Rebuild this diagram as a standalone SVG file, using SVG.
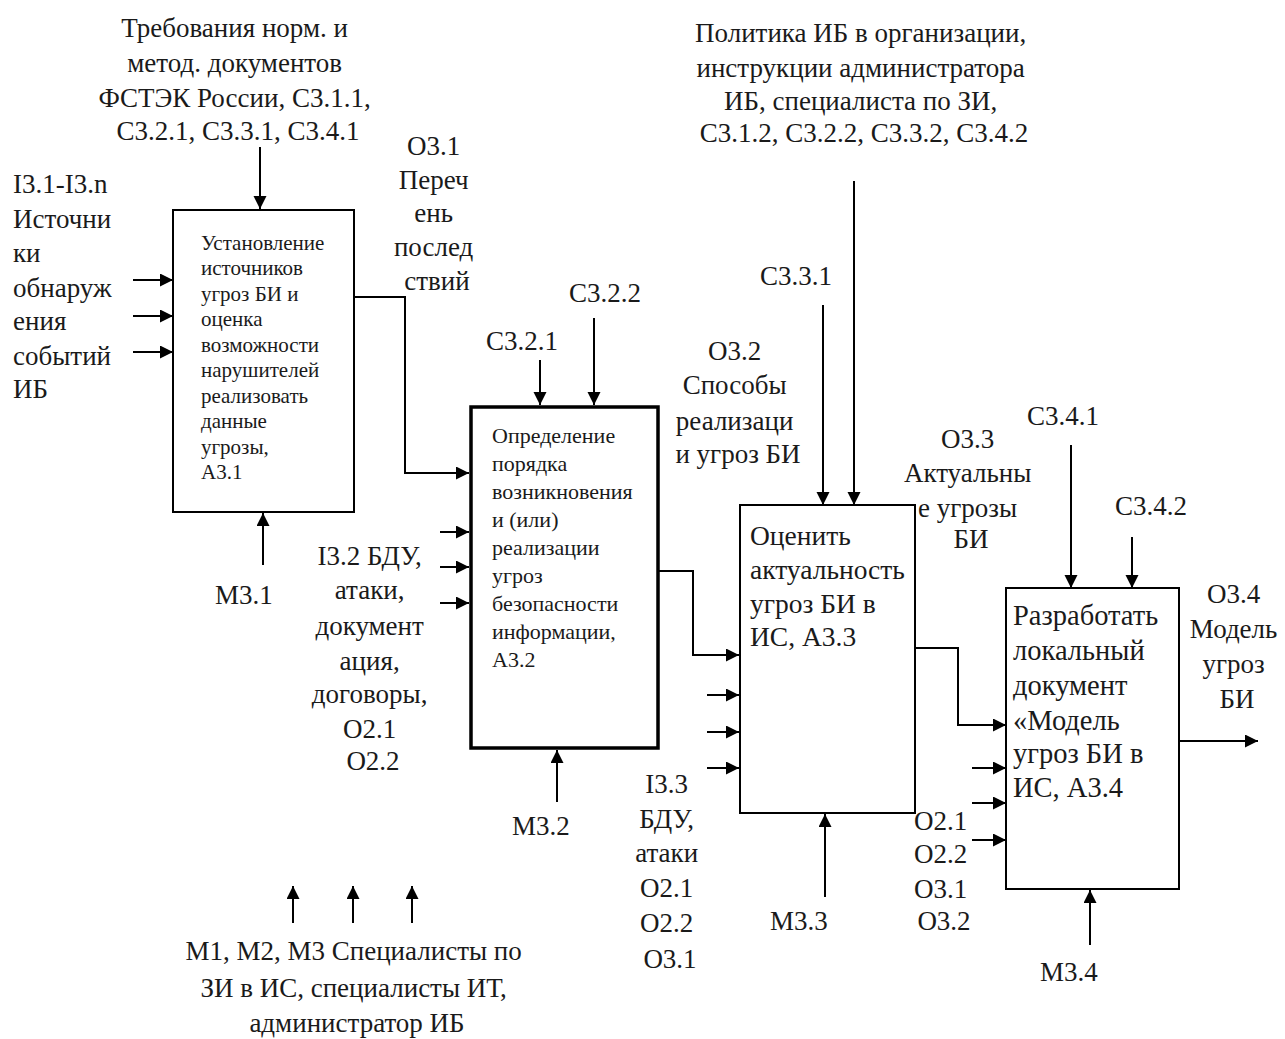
<svg xmlns="http://www.w3.org/2000/svg" width="1285" height="1039" viewBox="0 0 1285 1039">
<defs>
<marker id="ah" markerUnits="userSpaceOnUse" markerWidth="14" markerHeight="14" refX="13" refY="6.5" orient="auto">
<path d="M0,0 L13,6.5 L0,13 Z" fill="#000"/>
</marker>
<style>
.lbl{font-family:"Liberation Serif","Times New Roman",serif;font-size:27px;fill:#1a1a1a;text-anchor:middle}
.lft{text-anchor:start}
.box{fill:#fff;stroke:#000;stroke-width:2}
.bold{stroke-width:3.5}
.t1{font-family:"Liberation Serif","Times New Roman",serif;font-size:21px;fill:#1a1a1a}
.t2{font-family:"Liberation Serif","Times New Roman",serif;font-size:22px;fill:#1a1a1a}
.t3{font-family:"Liberation Serif","Times New Roman",serif;font-size:27.5px;fill:#1a1a1a}
.t4{font-family:"Liberation Serif","Times New Roman",serif;font-size:28.5px;fill:#1a1a1a}
.c{fill:none;stroke:#000;stroke-width:2;marker-end:url(#ah)}
</style>
</defs>
<rect width="1285" height="1039" fill="#fff"/>

<g id="connectors">
<line class="c" x1="260" y1="147" x2="260" y2="209"/>
<line class="c" x1="133" y1="280" x2="173" y2="280"/>
<line class="c" x1="133" y1="316" x2="173" y2="316"/>
<line class="c" x1="133" y1="352" x2="173" y2="352"/>
<line class="c" x1="263" y1="565" x2="263" y2="513"/>
<path class="c" d="M354,297 H405 V473 H469"/>
<line class="c" x1="540" y1="360" x2="540" y2="405"/>
<line class="c" x1="594" y1="318" x2="594" y2="405"/>
<line class="c" x1="440" y1="532" x2="469" y2="532"/>
<line class="c" x1="440" y1="567" x2="469" y2="567"/>
<line class="c" x1="440" y1="603" x2="469" y2="603"/>
<line class="c" x1="557" y1="802" x2="557" y2="750"/>
<path class="c" d="M659,571 H693 V655 H739"/>
<line class="c" x1="823" y1="305" x2="823" y2="505"/>
<line class="c" x1="854" y1="181" x2="854" y2="505"/>
<line class="c" x1="707" y1="695" x2="739" y2="695"/>
<line class="c" x1="707" y1="732" x2="739" y2="732"/>
<line class="c" x1="707" y1="768" x2="739" y2="768"/>
<line class="c" x1="825" y1="897" x2="825" y2="814"/>
<path class="c" d="M915,648 H958 V725 H1006"/>
<line class="c" x1="1071" y1="445" x2="1071" y2="588"/>
<line class="c" x1="1132" y1="537" x2="1132" y2="588"/>
<line class="c" x1="972" y1="768" x2="1006" y2="768"/>
<line class="c" x1="972" y1="803" x2="1006" y2="803"/>
<line class="c" x1="972" y1="840" x2="1006" y2="840"/>
<line class="c" x1="1090" y1="945" x2="1090" y2="890"/>
<line class="c" x1="1179" y1="741" x2="1258" y2="741"/>
<line class="c" x1="293" y1="923" x2="293" y2="886"/>
<line class="c" x1="353" y1="923" x2="353" y2="886"/>
<line class="c" x1="412" y1="923" x2="412" y2="886"/>
</g>

<g id="A3.1">
<rect class="box" x="173" y="210" width="181" height="302"/>
<text class="t1">
<tspan x="201" y="250">Установление</tspan>
<tspan x="201" y="275">источников</tspan>
<tspan x="201" y="301">угроз БИ и</tspan>
<tspan x="201" y="326">оценка</tspan>
<tspan x="201" y="352">возможности</tspan>
<tspan x="201" y="377">нарушителей</tspan>
<tspan x="201" y="403">реализовать</tspan>
<tspan x="201" y="428">данные</tspan>
<tspan x="201" y="454">угрозы,</tspan>
<tspan x="201" y="479">А3.1</tspan>
</text>
</g>

<g id="A3.2">
<rect class="box bold" x="471" y="407" width="187" height="341"/>
<text class="t2">
<tspan x="492" y="443">Определение</tspan>
<tspan x="492" y="471">порядка</tspan>
<tspan x="492" y="499">возникновения</tspan>
<tspan x="492" y="527">и (или)</tspan>
<tspan x="492" y="555">реализации</tspan>
<tspan x="492" y="583">угроз</tspan>
<tspan x="492" y="611">безопасности</tspan>
<tspan x="492" y="639">информации,</tspan>
<tspan x="492" y="667">А3.2</tspan>
</text>
</g>

<g id="A3.3">
<rect class="box" x="740" y="505" width="175" height="308"/>
<text class="t3">
<tspan x="750" y="545">Оценить</tspan>
<tspan x="750" y="579">актуальность</tspan>
<tspan x="750" y="613">угроз БИ в</tspan>
<tspan x="750" y="646">ИС, А3.3</tspan>
</text>
</g>

<g id="A3.4">
<rect class="box" x="1006" y="588" width="173" height="301"/>
<text class="t4">
<tspan x="1013" y="625">Разработать</tspan>
<tspan x="1013" y="660">локальный</tspan>
<tspan x="1013" y="695">документ</tspan>
<tspan x="1013" y="730">«Модель</tspan>
<tspan x="1013" y="763">угроз БИ в</tspan>
<tspan x="1013" y="797">ИС, А3.4</tspan>
</text>
</g>

<g id="labels">
<text class="lbl">
<tspan x="238" y="37">Требования норм. и</tspan>
<tspan x="238" y="72">метод. документов</tspan>
<tspan x="238" y="107">ФСТЭК России, С3.1.1,</tspan>
<tspan x="238" y="140">С3.2.1, С3.3.1, С3.4.1</tspan>
</text>
<text class="lbl">
<tspan x="864" y="42">Политика ИБ в организации,</tspan>
<tspan x="864" y="77">инструкции администратора</tspan>
<tspan x="864" y="110">ИБ, специалиста по ЗИ,</tspan>
<tspan x="864" y="142">С3.1.2, С3.2.2, С3.3.2, С3.4.2</tspan>
</text>
<text class="lbl lft">
<tspan x="13" y="193">I3.1-I3.n</tspan>
<tspan x="13" y="228">Источни</tspan>
<tspan x="13" y="262">ки</tspan>
<tspan x="13" y="297">обнаруж</tspan>
<tspan x="13" y="330">ения</tspan>
<tspan x="13" y="365">событий</tspan>
<tspan x="13" y="398">ИБ</tspan>
</text>
<text class="lbl">
<tspan x="437" y="155">О3.1</tspan>
<tspan x="437" y="189">Переч</tspan>
<tspan x="437" y="222">ень</tspan>
<tspan x="437" y="256">послед</tspan>
<tspan x="437" y="290">ствий</tspan>
</text>
<text class="lbl" x="244" y="604">М3.1</text>
<text class="lbl" x="522" y="350">С3.2.1</text>
<text class="lbl" x="605" y="302">С3.2.2</text>
<text class="lbl">
<tspan x="373" y="565">I3.2 БДУ,</tspan>
<tspan x="373" y="599">атаки,</tspan>
<tspan x="373" y="635">документ</tspan>
<tspan x="373" y="670">ация,</tspan>
<tspan x="373" y="703">договоры,</tspan>
<tspan x="373" y="738">О2.1</tspan>
<tspan x="373" y="770">О2.2</tspan>
</text>
<text class="lbl" x="541" y="835">М3.2</text>
<text class="lbl" x="796" y="285">С3.3.1</text>
<text class="lbl">
<tspan x="738" y="360">О3.2</tspan>
<tspan x="738" y="394">Способы</tspan>
<tspan x="738" y="430">реализаци</tspan>
<tspan x="738" y="463">и угроз БИ</tspan>
</text>
<text class="lbl">
<tspan x="670" y="793">I3.3</tspan>
<tspan x="670" y="828">БДУ,</tspan>
<tspan x="670" y="862">атаки</tspan>
<tspan x="670" y="897">О2.1</tspan>
<tspan x="670" y="932">О2.2</tspan>
<tspan x="670" y="968">О3.1</tspan>
</text>
<text class="lbl" x="799" y="930">М3.3</text>
<text class="lbl">
<tspan x="971" y="448">О3.3</tspan>
<tspan x="971" y="482">Актуальны</tspan>
<tspan x="971" y="517">е угрозы</tspan>
<tspan x="971" y="548">БИ</tspan>
</text>
<text class="lbl" x="1063" y="425">С3.4.1</text>
<text class="lbl" x="1151" y="515">С3.4.2</text>
<text class="lbl">
<tspan x="944" y="830">О2.1</tspan>
<tspan x="944" y="863">О2.2</tspan>
<tspan x="944" y="898">О3.1</tspan>
<tspan x="944" y="930">О3.2</tspan>
</text>
<text class="lbl" x="1069" y="981">М3.4</text>
<text class="lbl">
<tspan x="1237" y="603">О3.4</tspan>
<tspan x="1237" y="638">Модель</tspan>
<tspan x="1237" y="673">угроз</tspan>
<tspan x="1237" y="708">БИ</tspan>
</text>
<text class="lbl">
<tspan x="357" y="960">М1, М2, М3 Специалисты по</tspan>
<tspan x="357" y="997">ЗИ в ИС, специалисты ИТ,</tspan>
<tspan x="357" y="1032">администратор ИБ</tspan>
</text>
</g>
</svg>
